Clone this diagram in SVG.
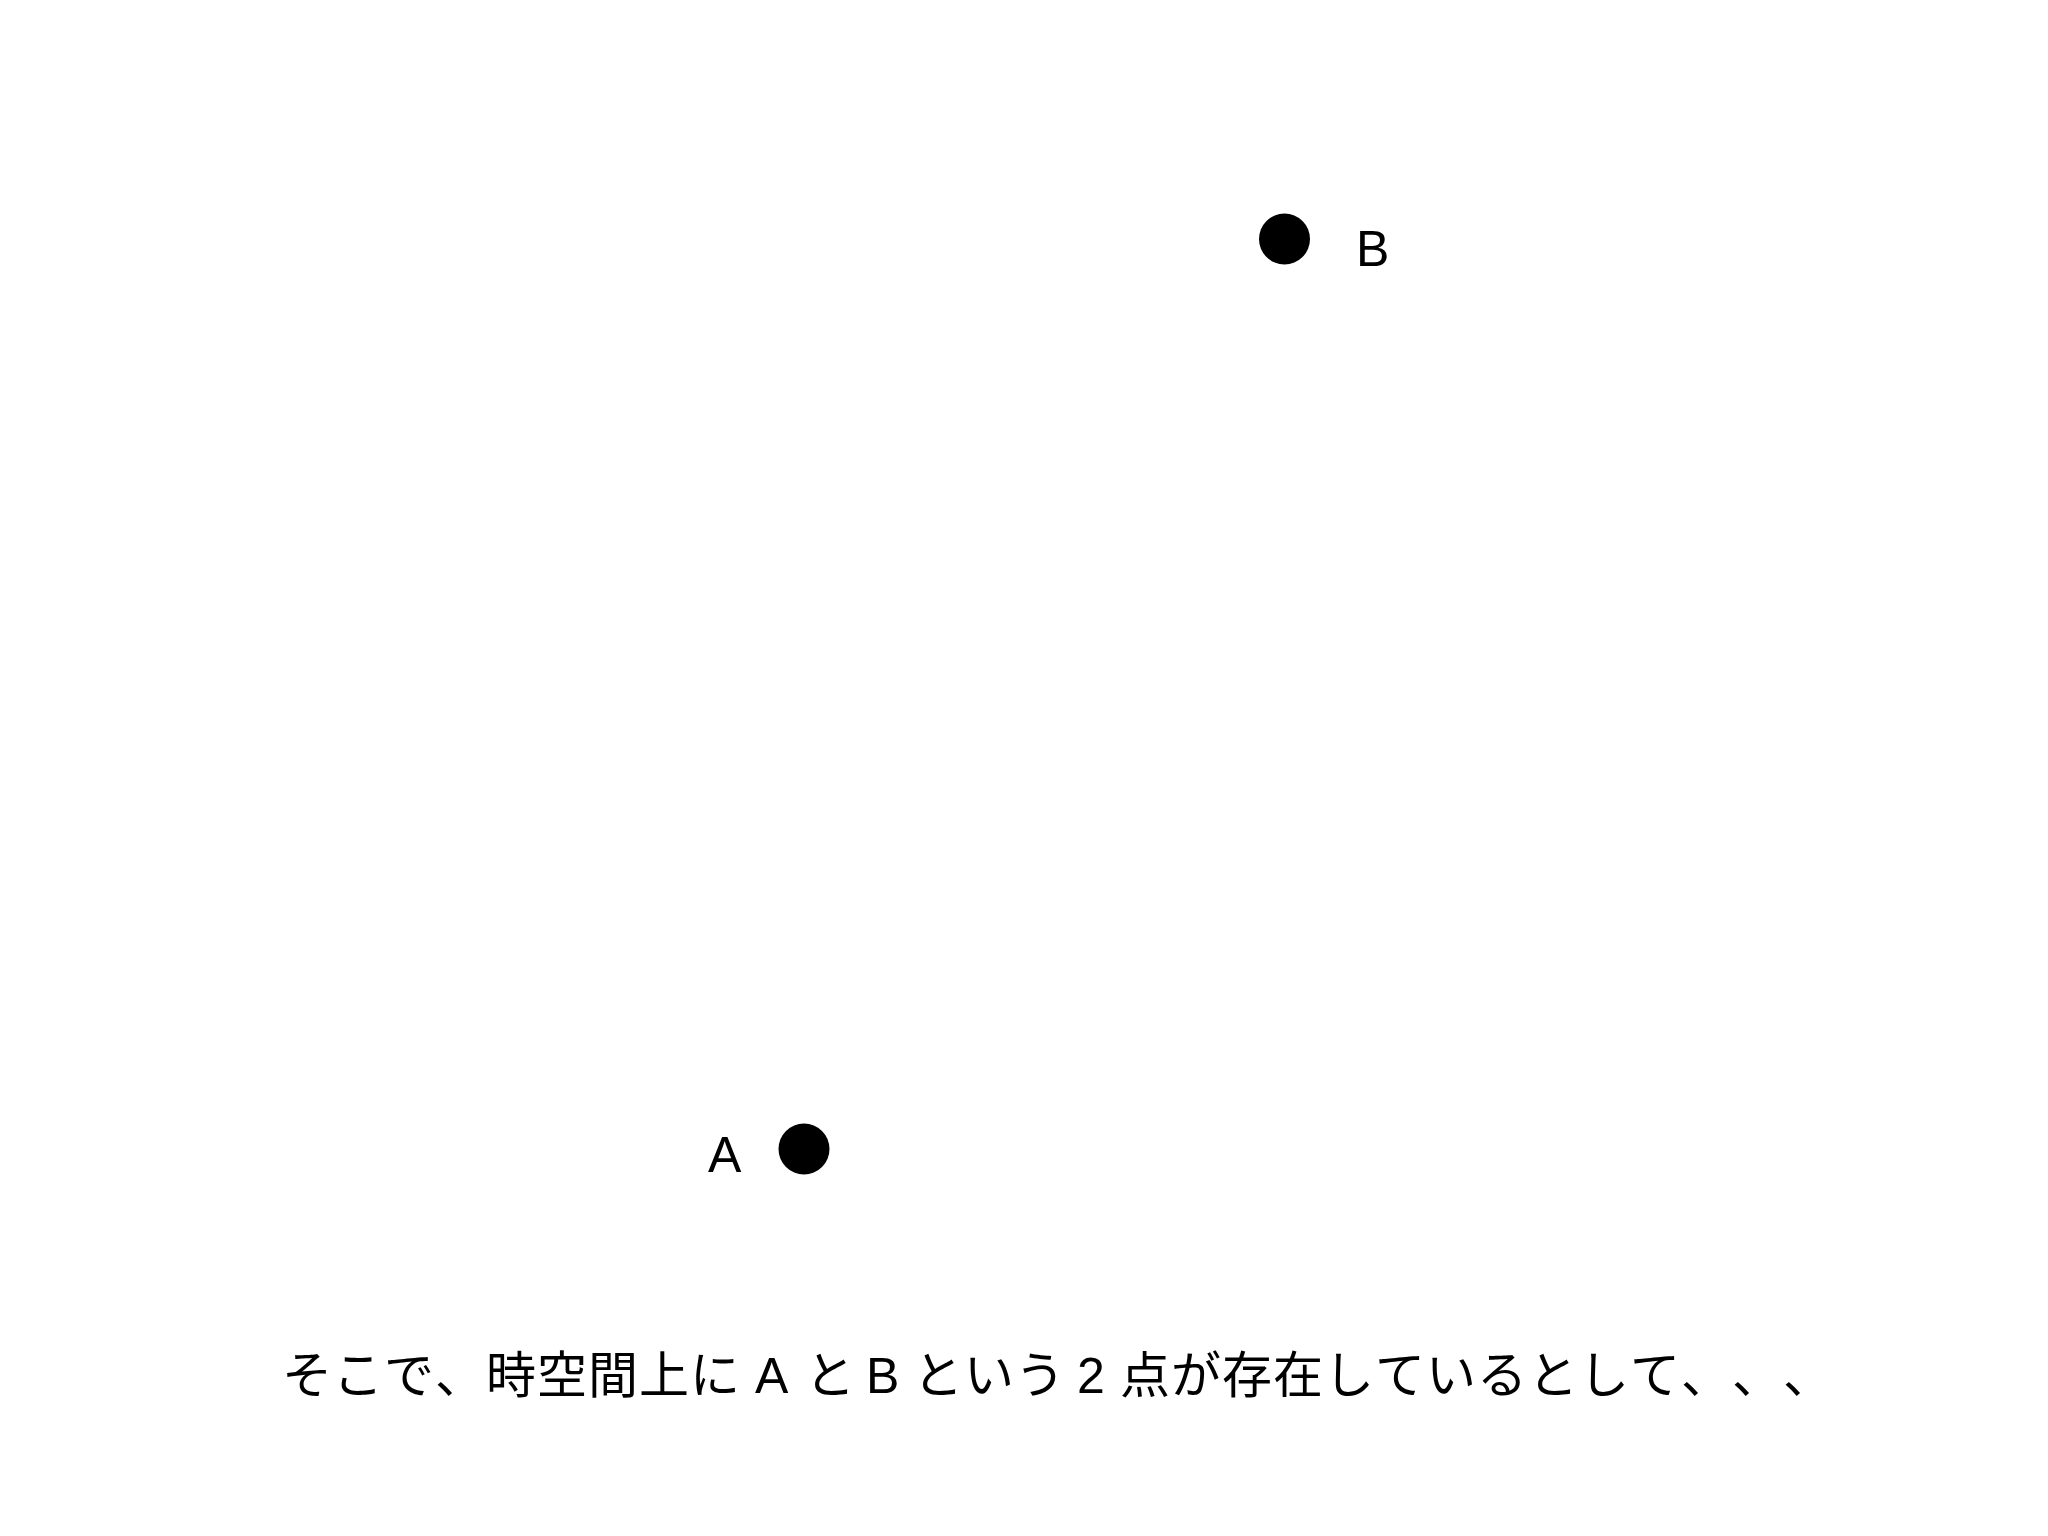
<svg xmlns="http://www.w3.org/2000/svg" width="2048" height="1536" viewBox="0 0 2048 1536">
  <style>
    .dot { fill: #000000; }
    .lbl { font-family: "Liberation Sans", Arial, sans-serif; font-size: 50px; fill: #000000; }
    .jp { font-family: "Noto Sans CJK JP", "Noto Sans CJK SC", sans-serif; font-size: 50px; fill: #000000; }
    .lat { font-family: "Liberation Sans", Arial, sans-serif; font-size: 50px; fill: #000000; }
  </style>
  <rect x="0" y="0" width="2048" height="1536" fill="#ffffff"/>
  <g id="node-B">
    <circle class="dot" cx="1284.5" cy="239" r="25.5"/>
    <text class="lbl" x="1356" y="266">B</text>
  </g>
  <g id="node-A">
    <circle class="dot" cx="804" cy="1149" r="25.5"/>
    <text class="lbl" x="708" y="1172">A</text>
  </g>
  <g id="caption">
    <text y="1393">
      <tspan class="jp" x="282 333 384 435 486 537 588 639 690">そこで、時空間上に</tspan>
      <tspan class="lat" x="755">A</tspan>
      <tspan class="jp" x="805">と</tspan>
      <tspan class="lat" x="866">B</tspan>
      <tspan class="jp" x="913 964 1015">という</tspan>
      <tspan class="lat" x="1077">2</tspan>
      <tspan class="jp" x="1120 1171 1222 1273 1324 1375 1426 1477 1528 1579 1630 1681 1732 1783">点が存在しているとして、、、</tspan>
    </text>
  </g>
</svg>
